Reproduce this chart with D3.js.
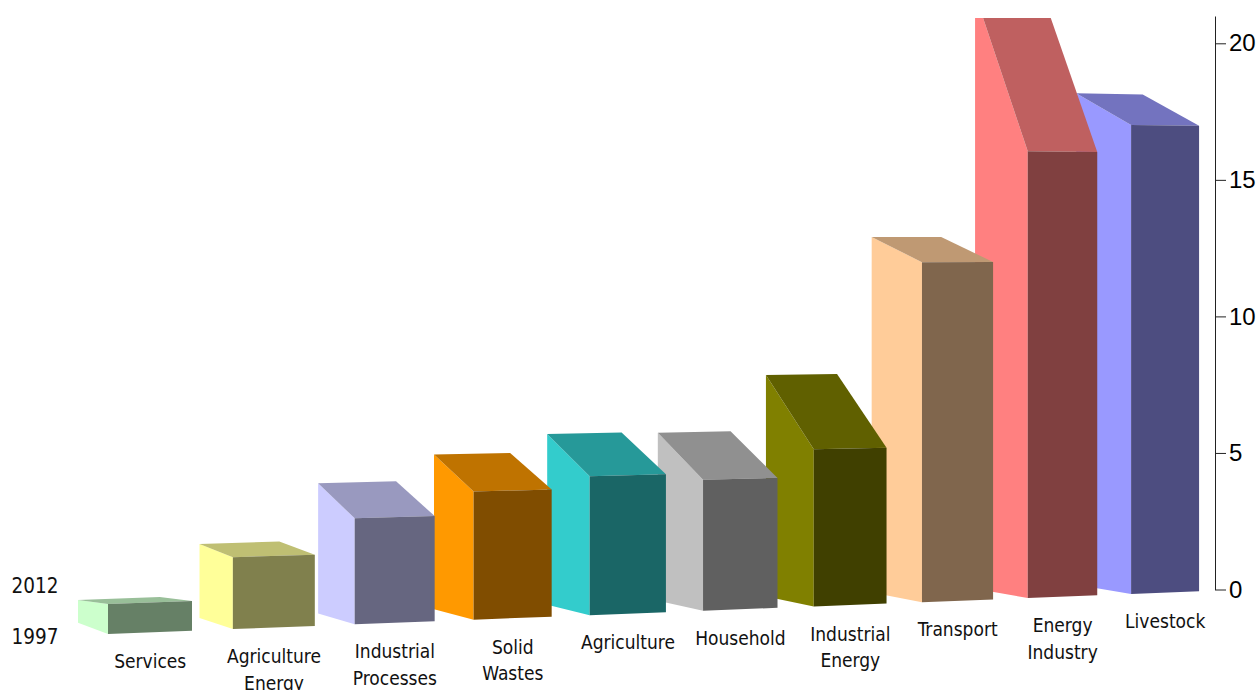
<!DOCTYPE html>
<html>
<head>
<meta charset="utf-8">
<style>
  html, body { margin: 0; padding: 0; background: #fff; overflow: hidden; }
  svg { display: block; }
  .cat { font-family: "DejaVu Sans Condensed", "DejaVu Sans", sans-serif; font-size: 19px; fill: #111; }
  .depth { font-family: "DejaVu Sans Condensed", "DejaVu Sans", sans-serif; font-size: 20.5px; fill: #111; }
  .axis text { font-family: "Liberation Sans", Arial, sans-serif; font-size: 24px; fill: #000; }
  .axis path, .axis line { stroke: #222; stroke-width: 1px; }
</style>
<script src="https://cdn.jsdelivr.net/npm/d3@7/dist/d3.min.js"></script>
</head>
<body>
<svg id="chart" width="1258" height="690"></svg>
<script>
// Emissions by sector, two years, shown as wedge-topped 3D bars
const categories = ["Services", "Agriculture Energy", "Industrial Processes", "Solid Wastes", "Agriculture",
                    "Household", "Industrial Energy", "Transport", "Energy Industry", "Livestock"];
const values1997 = [0.98, 2.37, 3.54, 4.33, 4.75, 4.53, 5.5, 12.04, 16.0, 16.99];
const values2012 = [0.76, 2.52, 4.48, 5.38, 6.02, 5.98, 7.98, 12.95, 21.9, 18.3];
const baseColors = ["#CCFFCC", "#FFFF99", "#CCCCFF", "#FF9900", "#33CCCC",
                    "#C0C0C0", "#808000", "#FFCC99", "#FF8080", "#9999FF"];
const depthYears = ["2012", "1997"];
const axisTicks = [0, 5, 10, 15, 20];

const svg = d3.select("#chart");

// Perspective camera: bars sit along X (category), rise in Y (value), recede in Z (0 = 1997, 1 = 2012)
const barWidth = 0.67;
const cam = { x0: 108, xX: 127.76, xZ: -27.57, y0: 634, yX: 2.95, yZ: 8, yV: 30.7, wX: 0.01245, wZ: 0.0311 };
function project(X, V, Z) {
  const w = 1 + cam.wX * X + cam.wZ * Z;
  return [
    (cam.x0 + cam.xX * X + cam.xZ * Z) / w,
    (cam.y0 + cam.yX * X + cam.yZ * Z - cam.yV * V) / w
  ];
}

// The plot box ends just above the tallest tick; taller marks get cut there
svg.append("clipPath").attr("id", "plot-clip")
  .append("rect").attr("x", 0).attr("y", 18).attr("width", 1258).attr("height", 672);

const polygon = d3.line().curve(d3.curveLinearClosed);
const barsLayer = svg.append("g").attr("clip-path", "url(#plot-clip)");

// Painted from the far right towards the viewer on the left
const order = d3.range(categories.length).reverse();
const bars = barsLayer.selectAll("g.bar").data(order).join("g").attr("class", "bar");

function shade(hex, k) {
  const c = d3.rgb(hex);
  return d3.rgb(c.r * k, c.g * k, c.b * k).formatHex();
}

bars.append("path") // left side
  .attr("fill", i => baseColors[i])
  .attr("d", i => polygon([
    project(i, 0, 0), project(i, values1997[i], 0),
    project(i, values2012[i], 1), project(i, 0, 1)
  ]));

bars.append("path") // sloping top
  .attr("fill", i => shade(baseColors[i], 0.75))
  .attr("d", i => polygon([
    project(i, values1997[i], 0), project(i + barWidth, values1997[i], 0),
    project(i + barWidth, values2012[i], 1), project(i, values2012[i], 1)
  ]));

bars.append("path") // front face
  .attr("fill", i => shade(baseColors[i], 0.5))
  .attr("d", i => polygon([
    project(i, 0, 0), project(i + barWidth, 0, 0),
    project(i + barWidth, values1997[i], 0), project(i, values1997[i], 0)
  ]));

// Category labels, one word per line, centred under each front face
const labelOffset = 29, lineHeight = 26.5;
svg.append("g").selectAll("text").data(categories).join("text")
  .attr("class", "cat")
  .attr("text-anchor", "middle")
  .attr("transform", (d, i) => {
    const p = project(i + barWidth / 2, 0, 0);
    return `translate(${p[0]},${p[1] + labelOffset})`;
  })
  .selectAll("tspan").data(d => d.split(" ")).join("tspan")
  .attr("x", 0)
  .attr("y", (d, k) => k * lineHeight)
  .attr("dy", "0.35em")
  .text(d => d);

// Year labels on the depth edge
const depthScale = d3.scalePoint().domain(depthYears).range([586, 637]);
svg.append("g").selectAll("text").data(depthYears).join("text")
  .attr("class", "depth")
  .attr("x", 11.5)
  .attr("y", d => depthScale(d))
  .attr("dy", "0.35em")
  .text(d => d);

// Value axis on the right
const yAxisScale = d3.scaleLinear().domain([0, 21]).range([589.5, 16]);
svg.append("g")
  .attr("class", "axis")
  .attr("transform", "translate(1215,0)")
  .call(d3.axisRight(yAxisScale).tickValues(axisTicks).tickSize(11).tickSizeOuter(0).tickPadding(3).tickFormat(d3.format("d")));
</script>
</body>
</html>
